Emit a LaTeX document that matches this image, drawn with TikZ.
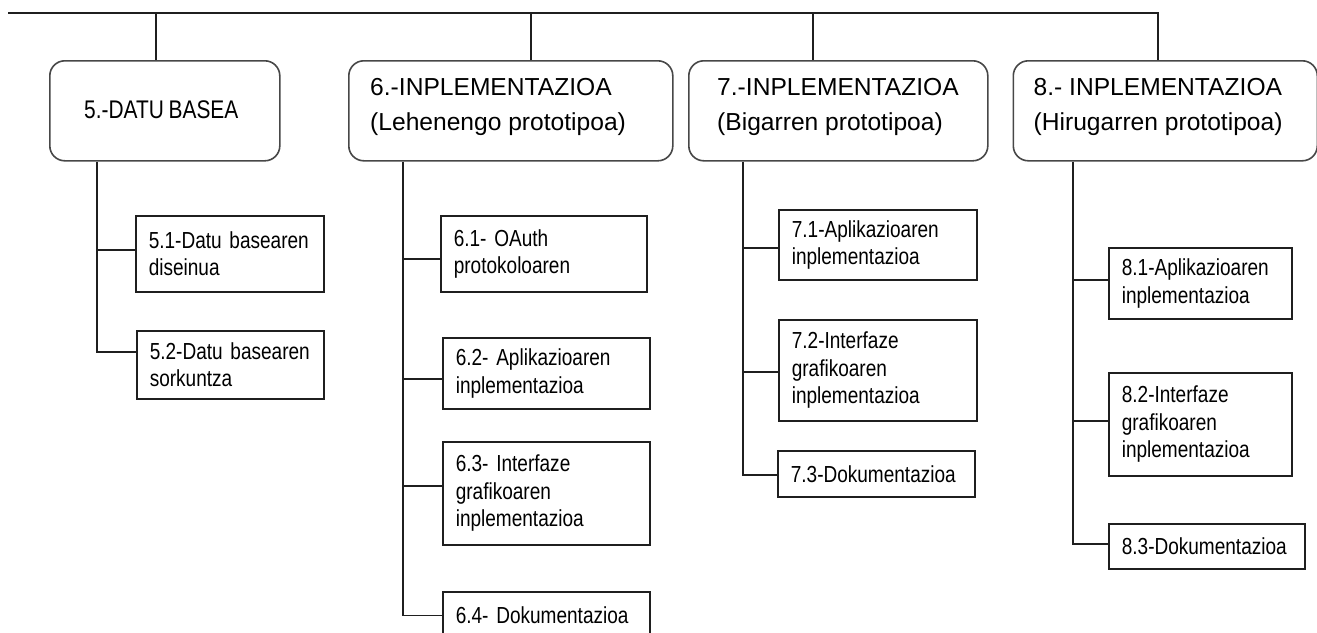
\documentclass[tikz,border=0pt]{standalone}
\usepackage{fontspec}
\setmainfont{Liberation Sans}
\newfontfamily\narrowfont[FakeStretch=0.82,WordSpace=0.8]{Liberation Sans}
\begin{document}
\begin{tikzpicture}[x=1pt,y=-1pt,
  line/.style={draw=black!88, line width=1.5pt},
  phase/.style={draw=black!72, line width=1.6pt, rounded corners=15pt,
    anchor=north west, minimum height=100pt, inner sep=0pt},
  phasetext/.style={anchor=west, align=left, inner sep=0pt,
    font=\fontsize{24.6}{35}\selectfont},
  task/.style={draw=black!88, line width=1.6pt, anchor=north west,
    align=left, inner xsep=13pt, inner ysep=0pt,
    font=\narrowfont\fontsize{23.2}{27.5}\selectfont},
]
\useasboundingbox (0,0) rectangle (1317,632);
\clip (0,0) rectangle (1317,632);

% phase boxes
\node[phase, minimum width=230pt] (h5) at (49,60) {};
\node[phase, minimum width=324pt] (h6) at (348,60) {};
\node[phase, minimum width=299pt] (h7) at (688,60) {};
\node[phase, minimum width=304pt] (h8) at (1012.5,60) {};

\node[phasetext, font=\narrowfont\fontsize{25.5}{35}\selectfont] (h5t)
  at ([xshift=35pt,yshift=1pt]h5.west) {5.-DATU BASEA};
\node[phasetext] (h6t) at ([xshift=22pt,yshift=4pt]h6.west)
  {6.-INPLEMENTAZIOA\\(Lehenengo prototipoa)};
\node[phasetext] (h7t) at ([xshift=29pt,yshift=4pt]h7.west)
  {7.-INPLEMENTAZIOA\\(Bigarren prototipoa)};
\node[phasetext] (h8t) at ([xshift=21pt,yshift=4pt]h8.west)
  {8.- INPLEMENTAZIOA\\(Hirugarren prototipoa)};

% task boxes
\node[task, text width=162pt, minimum height=76pt] (s51) at (135,215)
  {5.1-Datu basearen\\diseinua};
\node[task, text width=161pt, minimum height=68pt] (s52) at (136,330)
  {5.2-Datu basearen\\sorkuntza};

\node[task, text width=180pt, minimum height=76pt] (s61) at (440,215)
  {6.1- OAuth\\protokoloaren};
\node[task, text width=181pt, minimum height=71pt] (s62) at (442,337)
  {6.2- Aplikazioaren\\inplementazioa};
\node[task, text width=181pt, minimum height=103pt] (s63) at (442,441)
  {6.3- Interfaze\\grafikoaren\\inplementazioa};
\node[task, text width=181pt, minimum height=47pt] (s64) at (442,591)
  {6.4- Dokumentazioa};

\node[task, text width=172pt, minimum height=70pt] (s71) at (778,209)
  {7.1-Aplikazioaren\\inplementazioa};
\node[task, text width=172pt, minimum height=101pt] (s72) at (778,319)
  {7.2-Interfaze\\grafikoaren\\inplementazioa};
\node[task, text width=171pt, minimum height=46pt] (s73) at (777,450)
  {7.3-Dokumentazioa};

\node[task, text width=157pt, minimum height=71pt] (s81) at (1108,247)
  {8.1-Aplikazioaren\\inplementazioa};
\node[task, text width=157pt, minimum height=103pt] (s82) at (1108,372)
  {8.2-Interfaze\\grafikoaren\\inplementazioa};
\node[task, text width=170pt, minimum height=45pt] (s83) at (1108,523)
  {8.3-Dokumentazioa};

% top bar and drops to the phase boxes
\coordinate (barL) at (8,13);
\coordinate (barR) at (1158,13);
\coordinate (d5) at (156,13);
\coordinate (d6) at (531,13);
\coordinate (d7) at (813,13);
\draw[line] (barL) -- (barR) -- (barR |- h8.north);
\draw[line] (d5) -- (d5 |- h5.north);
\draw[line] (d6) -- (d6 |- h6.north);
\draw[line] (d7) -- (d7 |- h7.north);

% spines below each phase
\coordinate (v5) at (97,0);
\coordinate (v6) at (403,0);
\coordinate (v7) at (743,0);
\coordinate (v8) at (1073,0);

% branch points on the task boxes
\coordinate (b51) at ([yshift=4pt]s51.west);
\coordinate (b52) at ([yshift=13pt]s52.west);
\coordinate (b61) at ([yshift=-5pt]s61.west);
\coordinate (b62) at ([yshift=-5.5pt]s62.west);
\coordinate (b63) at ([yshift=7.5pt]s63.west);
\coordinate (b64) at (s64.west);
\coordinate (b71) at ([yshift=-3pt]s71.west);
\coordinate (b72) at ([yshift=-1.5pt]s72.west);
\coordinate (b73) at ([yshift=-1pt]s73.west);
\coordinate (b81) at ([yshift=3.5pt]s81.west);
\coordinate (b82) at ([yshift=3.5pt]s82.west);
\coordinate (b83) at ([yshift=2.5pt]s83.west);

\draw[line] (v5 |- h5.south) -- (v5 |- b52) -- (b52);
\draw[line] (b51) -- (b51 -| v5);

\draw[line] (v6 |- h6.south) -- (v6 |- b64) -- (b64);
\draw[line] (b61) -- (b61 -| v6);
\draw[line] (b62) -- (b62 -| v6);
\draw[line] (b63) -- (b63 -| v6);

\draw[line] (v7 |- h7.south) -- (v7 |- b73) -- (b73);
\draw[line] (b71) -- (b71 -| v7);
\draw[line] (b72) -- (b72 -| v7);

\draw[line] (v8 |- h8.south) -- (v8 |- b83) -- (b83);
\draw[line] (b81) -- (b81 -| v8);
\draw[line] (b82) -- (b82 -| v8);
\end{tikzpicture}
\end{document}
